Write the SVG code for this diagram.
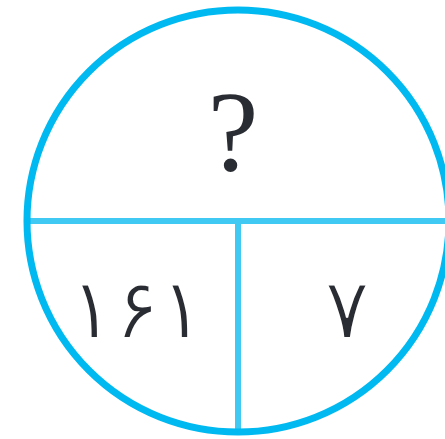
<svg xmlns="http://www.w3.org/2000/svg" width="445" height="439" viewBox="0 0 445 439">
<style>
.ring{fill:none;stroke:#00b9f1;stroke-width:7}
.div{stroke:#40c9f3;stroke-width:6;fill:none}
.t{font-family:"DejaVu Sans","Liberation Sans",sans-serif;fill:#2a2c33;text-anchor:middle;stroke:#fff;stroke-width:2}
.q{font-family:"Liberation Serif",serif;fill:#2a2c33;text-anchor:middle}
</style>
<g id="connectors">
<line class="div" x1="27" y1="221" x2="445" y2="221"/>
<line class="div" x1="238" y1="221" x2="238" y2="432"/>
</g>
<g id="circle"><circle class="ring" cx="238" cy="221" r="211"/></g>
<g id="top"><text class="q" x="233" y="170" font-size="114">?</text></g>
<g id="left"><text class="t" x="137" y="338" font-size="84" letter-spacing="2">۱۶۱</text></g>
<g id="right"><text class="t" x="347" y="338" font-size="84">۷</text></g>
</svg>
